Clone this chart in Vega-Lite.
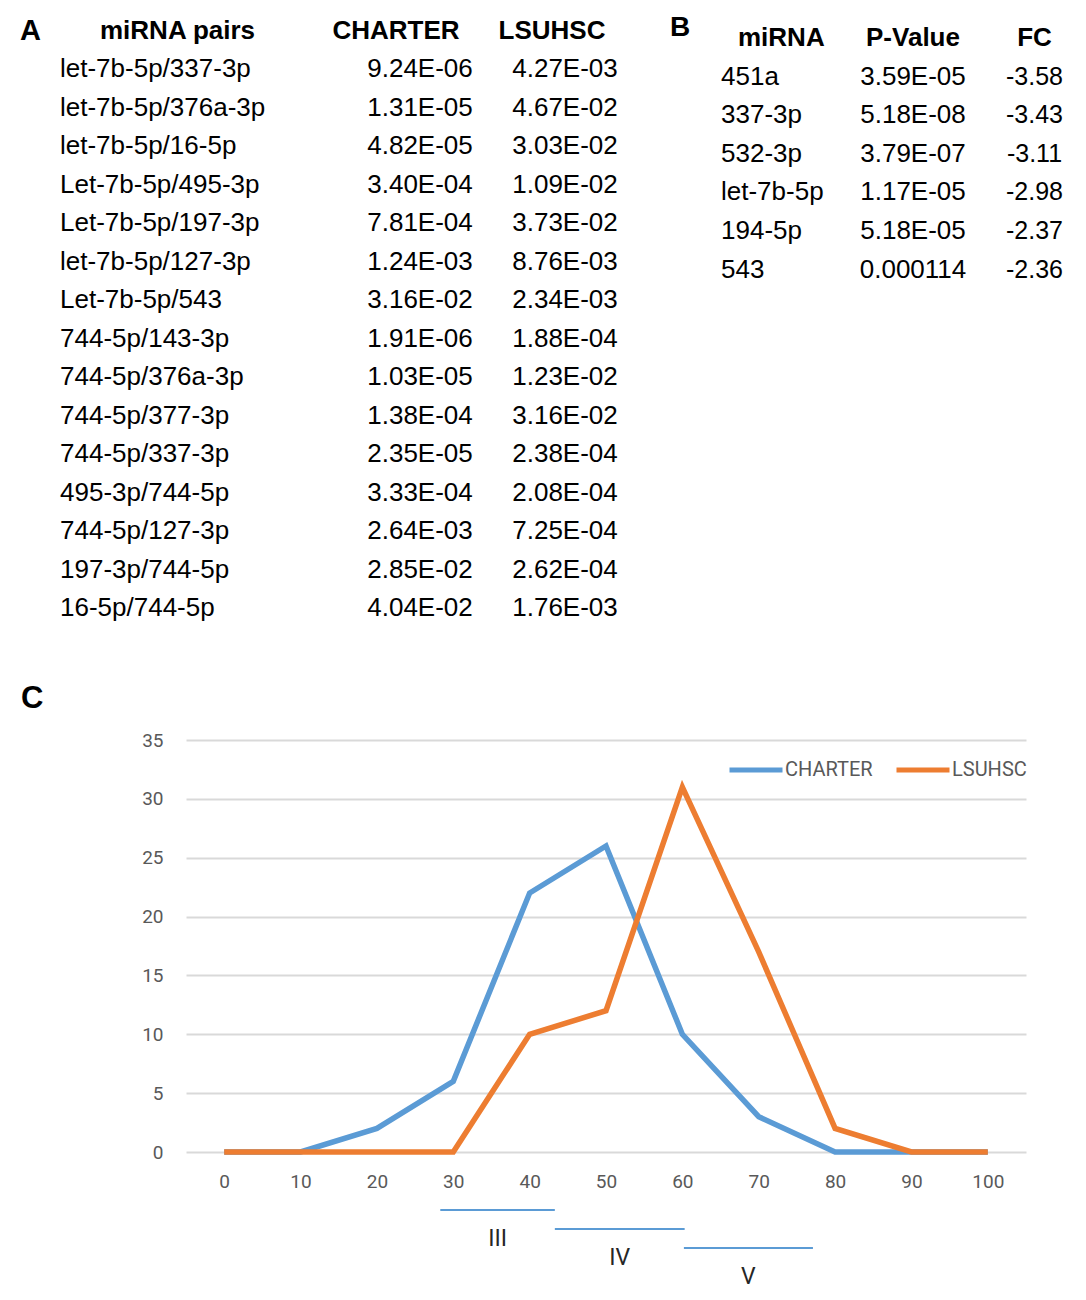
{
  "$schema": "https://vega.github.io/schema/vega-lite/v6.json",
  "padding": 0,
  "background": "white",
  "config": {
    "view": {"stroke": null},
    "font": "Liberation Sans",
    "text": {"font": "Liberation Sans", "color": "#000000", "baseline": "middle"}
  },
  "datasets": {
    "tableA": [
      {"letter": "A", "pair": "miRNA pairs", "charter": "CHARTER", "lsuhsc": "LSUHSC", "header": true},
      {"pair": "let-7b-5p/337-3p", "charter": "9.24E-06", "lsuhsc": "4.27E-03", "header": false},
      {"pair": "let-7b-5p/376a-3p", "charter": "1.31E-05", "lsuhsc": "4.67E-02", "header": false},
      {"pair": "let-7b-5p/16-5p", "charter": "4.82E-05", "lsuhsc": "3.03E-02", "header": false},
      {"pair": "Let-7b-5p/495-3p", "charter": "3.40E-04", "lsuhsc": "1.09E-02", "header": false},
      {"pair": "Let-7b-5p/197-3p", "charter": "7.81E-04", "lsuhsc": "3.73E-02", "header": false},
      {"pair": "let-7b-5p/127-3p", "charter": "1.24E-03", "lsuhsc": "8.76E-03", "header": false},
      {"pair": "Let-7b-5p/543", "charter": "3.16E-02", "lsuhsc": "2.34E-03", "header": false},
      {"pair": "744-5p/143-3p", "charter": "1.91E-06", "lsuhsc": "1.88E-04", "header": false},
      {"pair": "744-5p/376a-3p", "charter": "1.03E-05", "lsuhsc": "1.23E-02", "header": false},
      {"pair": "744-5p/377-3p", "charter": "1.38E-04", "lsuhsc": "3.16E-02", "header": false},
      {"pair": "744-5p/337-3p", "charter": "2.35E-05", "lsuhsc": "2.38E-04", "header": false},
      {"pair": "495-3p/744-5p", "charter": "3.33E-04", "lsuhsc": "2.08E-04", "header": false},
      {"pair": "744-5p/127-3p", "charter": "2.64E-03", "lsuhsc": "7.25E-04", "header": false},
      {"pair": "197-3p/744-5p", "charter": "2.85E-02", "lsuhsc": "2.62E-04", "header": false},
      {"pair": "16-5p/744-5p", "charter": "4.04E-02", "lsuhsc": "1.76E-03", "header": false}
    ],
    "tableB": [
      {"letter": "B", "mirna": "miRNA", "pvalue": "P-Value", "fc": "FC", "header": true},
      {"mirna": "451a", "pvalue": "3.59E-05", "fc": "-3.58", "header": false},
      {"mirna": "337-3p", "pvalue": "5.18E-08", "fc": "-3.43", "header": false},
      {"mirna": "532-3p", "pvalue": "3.79E-07", "fc": "-3.11", "header": false},
      {"mirna": "let-7b-5p", "pvalue": "1.17E-05", "fc": "-2.98", "header": false},
      {"mirna": "194-5p", "pvalue": "5.18E-05", "fc": "-2.37", "header": false},
      {"mirna": "543", "pvalue": "0.000114", "fc": "-2.36", "header": false}
    ],
    "counts": [
      {"series": "CHARTER", "bin": 0, "count": 0},
      {"series": "CHARTER", "bin": 10, "count": 0},
      {"series": "CHARTER", "bin": 20, "count": 2},
      {"series": "CHARTER", "bin": 30, "count": 6},
      {"series": "CHARTER", "bin": 40, "count": 22},
      {"series": "CHARTER", "bin": 50, "count": 26},
      {"series": "CHARTER", "bin": 60, "count": 10},
      {"series": "CHARTER", "bin": 70, "count": 3},
      {"series": "CHARTER", "bin": 80, "count": 0},
      {"series": "CHARTER", "bin": 90, "count": 0},
      {"series": "CHARTER", "bin": 100, "count": 0},
      {"series": "LSUHSC", "bin": 0, "count": 0},
      {"series": "LSUHSC", "bin": 10, "count": 0},
      {"series": "LSUHSC", "bin": 20, "count": 0},
      {"series": "LSUHSC", "bin": 30, "count": 0},
      {"series": "LSUHSC", "bin": 40, "count": 10},
      {"series": "LSUHSC", "bin": 50, "count": 12},
      {"series": "LSUHSC", "bin": 60, "count": 31},
      {"series": "LSUHSC", "bin": 70, "count": 17},
      {"series": "LSUHSC", "bin": 80, "count": 2},
      {"series": "LSUHSC", "bin": 90, "count": 0},
      {"series": "LSUHSC", "bin": 100, "count": 0}
    ],
    "stages": [
      {"stage": "III", "start": 28.3, "end": 43.3},
      {"stage": "IV", "start": 43.3, "end": 60.3},
      {"stage": "V", "start": 60.2, "end": 77.1}
    ]
  },
  "concat": [
    {
      "width": 900,
      "height": 639,
      "layer": [
        {
          "data": {"name": "tableA"},
          "transform": [{"fold": ["letter", "pair", "charter", "lsuhsc"], "as": ["col", "text"]}],
          "encoding": {
            "x": {"field": "col", "type": "nominal", "axis": null,
                  "scale": {"type": "point", "domain": ["letter", "pair", "charter", "lsuhsc"], "range": [-56, 379], "padding": 0}},
            "y": {"field": "pair", "type": "ordinal", "sort": null, "axis": null,
                  "scale": {"type": "point", "padding": 0.806}},
            "text": {"field": "text"}
          },
          "layer": [
            {"transform": [{"filter": "datum.header && datum.col === 'letter'"}],
             "mark": {"type": "text", "align": "left", "dx": -110, "fontSize": 29, "fontWeight": "bold"}},
            {"transform": [{"filter": "datum.header && datum.col === 'pair'"}],
             "mark": {"type": "text", "align": "left", "dx": -175, "fontSize": 26, "fontWeight": "bold"}},
            {"transform": [{"filter": "datum.header && datum.col === 'charter'"}],
             "mark": {"type": "text", "align": "center", "dx": -24, "fontSize": 26, "fontWeight": "bold"}},
            {"transform": [{"filter": "datum.header && datum.col === 'lsuhsc'"}],
             "mark": {"type": "text", "align": "center", "dx": -13, "fontSize": 26, "fontWeight": "bold"}},
            {"transform": [{"filter": "!datum.header && datum.col === 'pair'"}],
             "mark": {"type": "text", "align": "left", "dx": -215, "fontSize": 26}},
            {"transform": [{"filter": "!datum.header && (datum.col === 'charter' || datum.col === 'lsuhsc')"}],
             "mark": {"type": "text", "align": "center", "fontSize": 26}}
          ]
        },
        {
          "data": {"name": "tableB"},
          "transform": [{"fold": ["letter", "mirna", "pvalue", "fc"], "as": ["col", "text"]}],
          "encoding": {
            "x": {"field": "col", "type": "nominal", "axis": null,
                  "scale": {"type": "point", "domain": ["letter", "mirna", "pvalue", "fc"], "range": [484, 848.5], "padding": 0}},
            "y": {"field": "mirna", "type": "ordinal", "sort": null, "axis": null,
                  "scale": {"type": "point", "range": [38.2, 269.5], "padding": 0}},
            "text": {"field": "text"}
          },
          "layer": [
            {"transform": [{"filter": "datum.header && datum.col === 'letter'"}],
             "mark": {"type": "text", "align": "left", "dy": -10, "fontSize": 28, "fontWeight": "bold"}},
            {"transform": [{"filter": "datum.header && datum.col === 'mirna'"}],
             "mark": {"type": "text", "align": "left", "dx": -53.5, "fontSize": 26, "fontWeight": "bold"}},
            {"transform": [{"filter": "datum.header && (datum.col === 'pvalue' || datum.col === 'fc')"}],
             "mark": {"type": "text", "align": "center", "fontSize": 26, "fontWeight": "bold"}},
            {"transform": [{"filter": "!datum.header && datum.col === 'mirna'"}],
             "mark": {"type": "text", "align": "left", "dx": -70.5, "fontSize": 26}},
            {"transform": [{"filter": "!datum.header && datum.col === 'pvalue'"}],
             "mark": {"type": "text", "align": "center", "fontSize": 26}},
            {"transform": [{"filter": "!datum.header && datum.col === 'fc'"}],
             "mark": {"type": "text", "align": "center", "fontSize": 25}}
          ]
        }
      ],
      "resolve": {"scale": {"x": "independent", "y": "independent"}}
    },
    {
      "width": 840,
      "height": 412,
      "title": {"text": "C", "anchor": "start", "frame": "group", "dx": -165, "offset": 16,
                "fontSize": 31, "fontWeight": "bold", "font": "Liberation Sans", "color": "#000000"},
      "layer": [
        {
          "data": {"name": "counts"},
          "mark": {"type": "line", "strokeWidth": 5.5},
          "encoding": {
            "x": {"field": "bin", "type": "quantitative", "title": null,
                  "scale": {"domain": [-5, 105], "nice": false, "zero": false},
                  "axis": {"values": [0, 10, 20, 30, 40, 50, 60, 70, 80, 90, 100], "grid": false, "domain": false, "ticks": false,
                           "labelPadding": 20, "labelFontSize": 19, "labelColor": "#595959", "labelFont": "Roboto", "labelBaseline": "top"}},
            "y": {"field": "count", "type": "quantitative", "title": null,
                  "scale": {"domain": [0, 35], "nice": false},
                  "axis": {"values": [0, 5, 10, 15, 20, 25, 30, 35], "grid": true, "gridColor": "#D9D9D9", "gridWidth": 2,
                           "domain": false, "ticks": false, "labelPadding": 23, "minExtent": 186,
                           "labelFontSize": 19, "labelColor": "#595959", "labelFont": "Roboto"}},
            "color": {"field": "series", "type": "nominal",
                      "scale": {"domain": ["CHARTER", "LSUHSC"], "range": ["#5B9BD5", "#ED7D31"]},
                      "legend": {"title": null, "orient": "none", "legendX": 541, "legendY": 741, "direction": "horizontal",
                                 "padding": 0, "symbolType": "stroke", "symbolSize": 2809, "symbolStrokeWidth": 5,
                                 "labelFont": "Roboto", "labelFontSize": 20, "labelColor": "#595959",
                                 "labelOffset": 0, "columnPadding": 13}}
          }
        },
        {
          "data": {"name": "stages"},
          "mark": {"type": "rule", "color": "#5B9BD5", "strokeWidth": 1.8},
          "encoding": {
            "x": {"field": "start", "type": "quantitative", "title": null},
            "x2": {"field": "end"},
            "y": {"field": "stage", "type": "ordinal", "axis": null,
                  "scale": {"type": "point", "domain": ["III", "IV", "V"], "range": [470, 508], "padding": 0}}
          }
        },
        {
          "data": {"name": "stages"},
          "transform": [{"calculate": "(datum.start + datum.end) / 2", "as": "mid"}],
          "mark": {"type": "text", "font": "Roboto", "fontSize": 23, "color": "#262626", "dy": 29},
          "encoding": {
            "x": {"field": "mid", "type": "quantitative", "title": null},
            "y": {"field": "stage", "type": "ordinal", "axis": null,
                  "scale": {"type": "point", "domain": ["III", "IV", "V"], "range": [470, 508], "padding": 0}},
            "text": {"field": "stage"}
          }
        }
      ],
      "resolve": {"scale": {"y": "independent"}}
    }
  ],
  "columns": 1,
  "align": "none",
  "spacing": 44
}
